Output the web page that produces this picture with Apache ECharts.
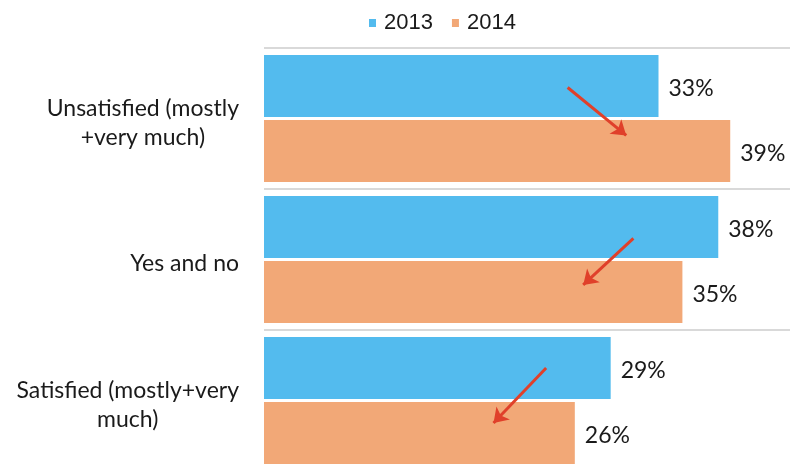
<!DOCTYPE html>
<html lang="en">

<head>
  <meta charset="UTF-8">
  <title>Satisfaction 2013 vs 2014</title>
  <style>
    html, body { margin: 0; padding: 0; background: #fff; }
    .chart { width: 793px; height: 466px; }
  </style>
</head>

<body>
  <div class="chart"></div>
  <script src="https://cdn.jsdelivr.net/npm/echarts@6/dist/echarts.min.js"></script>
  <script>
    let categories = ['Unsatisfied (mostly\n+very much)', 'Yes and no', 'Satisfied (mostly+very\nmuch)'];
    let years = ['2013', '2014'];
    let values2013 = [33, 38, 29];
    let values2014 = [39, 35, 26];
    // red arrows, [x start, group pos start, x end, group pos end]
    let arrows = [
      [25.4, 0.28, 30.3, 0.62],
      [30.9, 1.35, 26.7, 1.68],
      [23.6, 2.27, 19.2, 2.66]
    ];

    window.onload = function () {
      let myChart = echarts.init(document.querySelector('.chart'));

      let labelStyle = {
        show: true,
        position: 'right',
        distance: 10,
        offset: [0, 3],
        formatter: '{c}%',
        fontFamily: 'Lato',
        fontSize: 23,
        color: '#1a1a1a'
      };

      let option = {
        animation: false,
        legend: {
          data: years,
          left: 364,
          top: 7,
          itemWidth: 7,
          itemHeight: 8,
          itemGap: 19,
          icon: 'rect',
          textStyle: {
            fontFamily: 'Liberation Sans',
            fontSize: 22,
            color: '#1a1a1a',
            padding: [0, 0, 0, 3]
          }
        },
        grid: {
          left: 264,
          right: 3,
          top: 48,
          height: 423,
          outerBoundsMode: 'none'
        },
        xAxis: {
          type: 'value',
          min: 0,
          max: 44,
          show: false
        },
        yAxis: [
          {
            type: 'category',
            data: categories,
            inverse: true,
            axisLine: { show: false },
            axisTick: { show: false },
            splitLine: {
              show: true,
              lineStyle: { color: '#d9d9d9', width: 2 }
            },
            axisLabel: {
              margin: 25,
              align: 'right',
              padding: [9, 0, 0, 0],
              formatter: function (v) {
                return v.split('\n').map(s => '{c|' + s + '}').join('\n');
              },
              rich: {
                c: {
                  align: 'center',
                  fontFamily: 'Lato',
                  fontSize: 23,
                  lineHeight: 29,
                  color: '#1a1a1a'
                }
              }
            }
          },
          {
            type: 'value',
            min: 0,
            max: 3,
            inverse: true,
            show: false
          }
        ],
        series: [
          {
            name: '2013',
            type: 'bar',
            data: values2013,
            barWidth: 62,
            barGap: '5%',
            itemStyle: { color: '#53bbee' },
            label: labelStyle
          },
          {
            name: '2014',
            type: 'bar',
            data: values2014,
            barWidth: 62,
            barGap: '5%',
            itemStyle: { color: '#f2a877' },
            label: labelStyle
          },
          {
            name: 'arrows',
            type: 'line',
            yAxisIndex: 1,
            data: [],
            silent: true,
            markLine: {
              silent: true,
              symbol: ['none', 'arrow'],
              symbolSize: 14,
              label: { show: false },
              lineStyle: { color: '#e0402a', width: 3, type: 'solid' },
              data: arrows.map(a => [
                { coord: [a[0], a[1]] },
                { coord: [a[2], a[3]] }
              ])
            }
          }
        ]
      };
      myChart.setOption(option);
    };
  </script>
</body>

</html>
